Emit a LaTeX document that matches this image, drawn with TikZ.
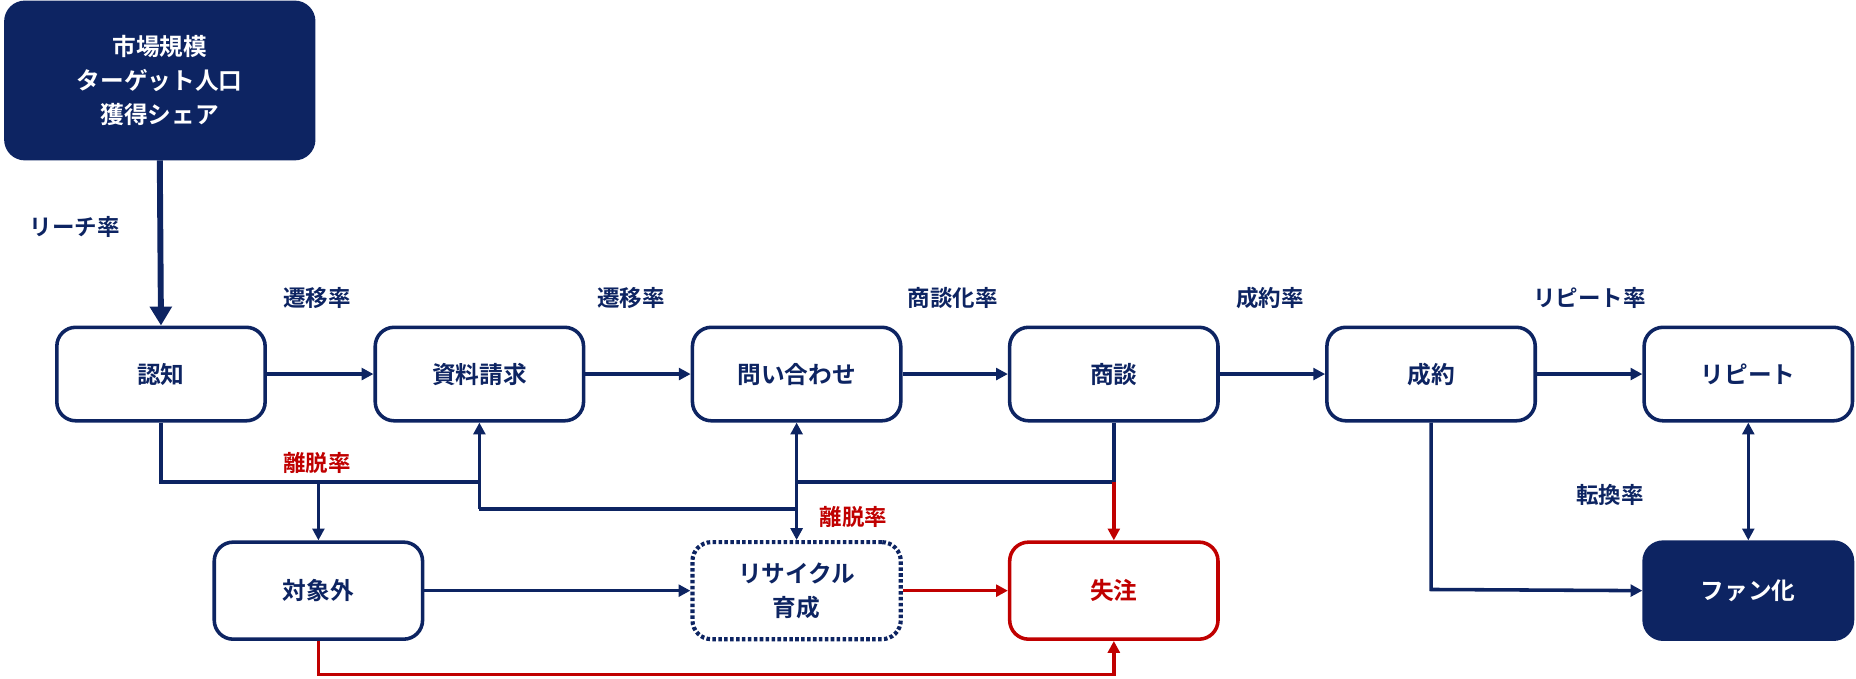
\documentclass[tikz,border=0pt]{standalone}
\usepackage{fontspec}
\setmainfont{Noto Sans CJK JP}[BoldFont={Noto Sans CJK JP Bold}]
\usetikzlibrary{arrows.meta}
\definecolor{navy}{HTML}{0D2462}
\definecolor{red2}{HTML}{C00000}
\begin{document}
\begin{tikzpicture}[x=1pt,y=-1pt,
  box/.style={draw=navy,line width=3pt,rounded corners=16pt,minimum width=176pt,minimum height=79pt,align=center,text=navy,font=\fontsize{20}{29}\selectfont\bfseries,inner sep=0pt},
  lab/.style={font=\fontsize{19}{23}\selectfont\bfseries,text=navy},
  rlab/.style={font=\fontsize{19}{23}\selectfont\bfseries,text=red2},
  ln/.style={draw=navy,line width=3pt},
  rln/.style={draw=red2,line width=3pt},
  tip/.style={-{Triangle[length=10pt,width=10pt]}}]
\useasboundingbox (0,0) rectangle (1568,573);
\node[box,fill=navy,text=white,minimum width=260pt,minimum height=132pt] (top) at (135,68) {市場規模\\ターゲット人口\\獲得シェア};
\node[box] (a) at (136,316) {認知};
\node[box] (b) at (405,316) {資料請求};
\node[box] (c) at (673,316) {問い合わせ};
\node[box] (d) at (941,316) {商談};
\node[box] (e) at (1209,316) {成約};
\node[box] (f) at (1477,316) {リピート};
\node[box,minimum height=82pt] (g) at (269,499) {対象外};
\node[box,minimum height=82pt,dotted,line width=3.5pt] (h) at (673,499) {リサイクル\\育成};
\node[box,minimum height=82pt,draw=red2,text=red2] (i) at (941,499) {失注};
\node[box,minimum height=82pt,fill=navy,text=white] (j) at (1477,499) {ファン化};
\coordinate (p1) at (136,407);
\coordinate (p2) at (941,407);
\coordinate (p3) at (405,430);
\coordinate (p4) at (673,430);
\coordinate (p5) at (269,570);
\coordinate (p6) at (941,570);
\coordinate (p7) at (1209,498);
\draw[ln,line width=5pt,-{Triangle[length=16pt,width=18pt]}] (top.south) -- (a.north);
\draw[ln,tip] (a) -- (b);
\draw[ln,tip] (b) -- (c);
\draw[ln,tip] (c) -- (d);
\draw[ln,tip] (d) -- (e);
\draw[ln,tip] (e) -- (f);
\draw[ln] (a.south) -- (p1) -- (p1 -| b.south);
\draw[ln,tip] (p1 -| g.north) -- (g.north);
\draw[ln,tip] (p3) -- (b.south);
\draw[ln] (p3) -- (p4);
\draw[ln,tip] (p4) -- (h.north);
\draw[ln,tip] (p4) -- (c.south);
\draw[ln] (d.south) -- (p2) -- (p2 -| c.south);
\draw[rln,tip] (p2) -- (i.north);
\draw[ln,tip] (g) -- (h);
\draw[rln,tip] (h) -- (i);
\draw[rln,tip] (g.south) -- (p5) -- (p6) -- (i.south);
\draw[ln,tip] (e.south) -- (p7) -- (j.west);
\draw[ln,{Triangle[length=10pt,width=10pt]}-{Triangle[length=10pt,width=10pt]}] (f.south) -- (j.north);
\node[lab] (l1) at (63,192) {リーチ率};
\node[lab] (l2) at (268,252) {遷移率};
\node[lab] (l3) at (533,252) {遷移率};
\node[lab] (l4) at (805,252) {商談化率};
\node[lab] (l5) at (1073,252) {成約率};
\node[lab] (l6) at (1343,252) {リピート率};
\node[rlab] (l7) at (268,391) {離脱率};
\node[rlab] (l8) at (721,437) {離脱率};
\node[lab] (l9) at (1360,418) {転換率};
\end{tikzpicture}
\end{document}
